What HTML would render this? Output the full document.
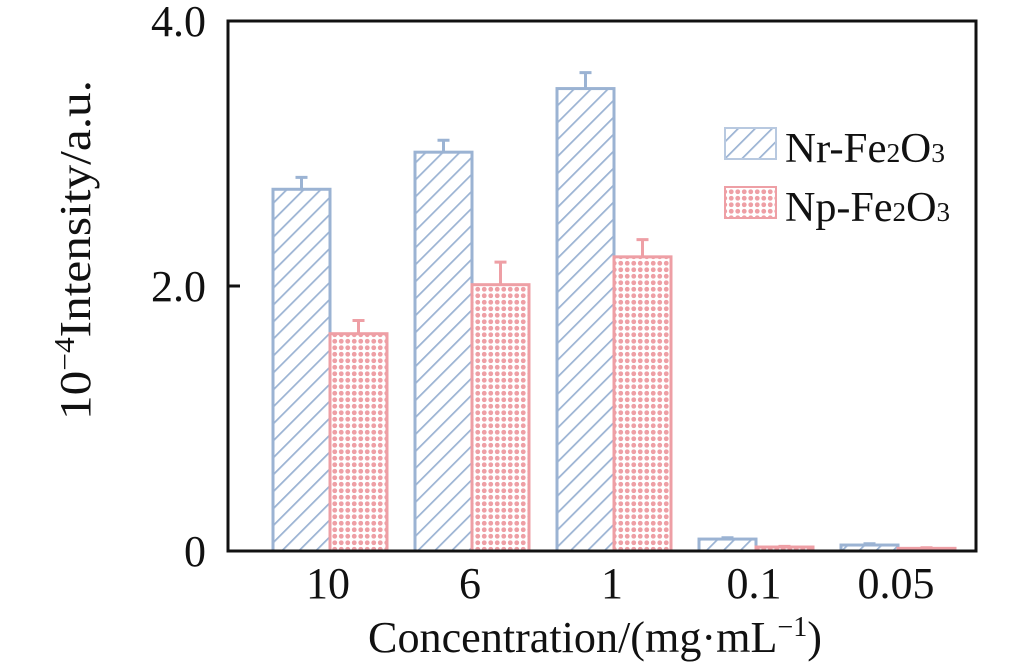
<!DOCTYPE html>
<html><head><meta charset="utf-8"><style>
body{margin:0;background:#fff}
svg text{font-family:"Liberation Serif",serif;fill:#111}
</style></head><body>
<svg id="c" width="1011" height="666">
<defs>
<pattern id="hatch" width="12" height="12" patternUnits="userSpaceOnUse" patternTransform="rotate(45)">
<line x1="0" y1="0" x2="0" y2="12" stroke="#9bb3d3" stroke-width="3.5"/></pattern>
<pattern id="dots" width="6.5" height="6.5" patternUnits="userSpaceOnUse">
<rect width="6.5" height="6.5" fill="#fff"/><circle cx="3.25" cy="3.25" r="2.4" fill="#ee9fa5"/></pattern>
</defs>
<g id="bars"></g>
<rect x="228" y="21" width="748" height="530" fill="none" stroke="#111" stroke-width="3"/>
<g id="axes"></g>
<text x="90" y="250" font-size="44" text-anchor="middle" textLength="340" lengthAdjust="spacingAndGlyphs" transform="rotate(-90 90 250)">10<tspan font-size="28" dy="-16">−4</tspan><tspan dy="16">Intensity/a.u.</tspan></text>
<text x="595" y="652" font-size="44" text-anchor="middle" textLength="454" lengthAdjust="spacingAndGlyphs">Concentration/(mg·mL<tspan font-size="28" dy="-16">−1</tspan><tspan dy="16">)</tspan></text>
<g>
<rect x="725" y="128" width="51" height="31" fill="url(#hatch)" stroke="#b8c9e0" stroke-width="2"/>
<text x="785" y="162" font-size="42" textLength="160" lengthAdjust="spacingAndGlyphs">Nr-Fe<tspan font-size="27">2</tspan>O<tspan font-size="27">3</tspan></text>
<rect x="725" y="187" width="51" height="31" fill="url(#dots)" stroke="#ee9fa5" stroke-width="2"/>
<text x="785" y="221" font-size="42" textLength="165" lengthAdjust="spacingAndGlyphs">Np-Fe<tspan font-size="27">2</tspan>O<tspan font-size="27">3</tspan></text>
</g>
</svg>
<script>
const categories=["10","6","1","0.1","0.05"];
const nrValues=[2.73,3.01,3.49,0.09,0.045];
const nrErrors=[0.09,0.09,0.12,0.01,0.01];
const npValues=[1.64,2.01,2.22,0.03,0.02];
const npErrors=[0.10,0.17,0.13,0.005,0.005];
const yTicks=[0,2,4];
const yTickLabels=["0","2.0","4.0"];
const NS="http://www.w3.org/2000/svg";
const y=v=>551-v*132.5;
const xc=i=>330+i*142;
const bw=57;
function mk(tag,attrs,parent){const e=document.createElementNS(NS,tag);for(const k in attrs)e.setAttribute(k,attrs[k]);parent.appendChild(e);return e;}
const bars=document.getElementById('bars'),axes=document.getElementById('axes');
const series=[[nrValues,nrErrors,"url(#hatch)","#9bb3d3",-1,"nr"],[npValues,npErrors,"url(#dots)","#ee9fa5",0,"np"]];
series.forEach(([vals,errs,fill,col,off,nm])=>{
 vals.forEach((v,i)=>{
  const x=xc(i)+off*bw;
  const r=mk('rect',{x:x,y:y(v),width:bw,height:551-y(v),fill:fill,stroke:col,'stroke-width':3},bars);
  
  
  const cx=x+bw/2;
  const g=mk('path',{d:`M${cx},${y(v)}V${y(v+errs[i])}M${cx-6},${y(v+errs[i])}H${cx+6}`,stroke:col,'stroke-width':3,fill:'none'},bars);
  
  
 });
});
yTicks.forEach((t,i)=>{
 const l=mk('line',{x1:228,x2:240,y1:y(t),y2:y(t),stroke:'#111','stroke-width':3},axes);
 
 
 const tx=mk('text',{x:206,y:y(t)+15,'font-size':44,'text-anchor':'end'},axes);
 tx.textContent=yTickLabels[i];
 
 
});
categories.forEach((c,i)=>{
 const tx=mk('text',{x:xc(i)-2,y:598,'font-size':44,'text-anchor':'middle'},axes);
 tx.textContent=c;
 
 
});
</script>
</body></html>
